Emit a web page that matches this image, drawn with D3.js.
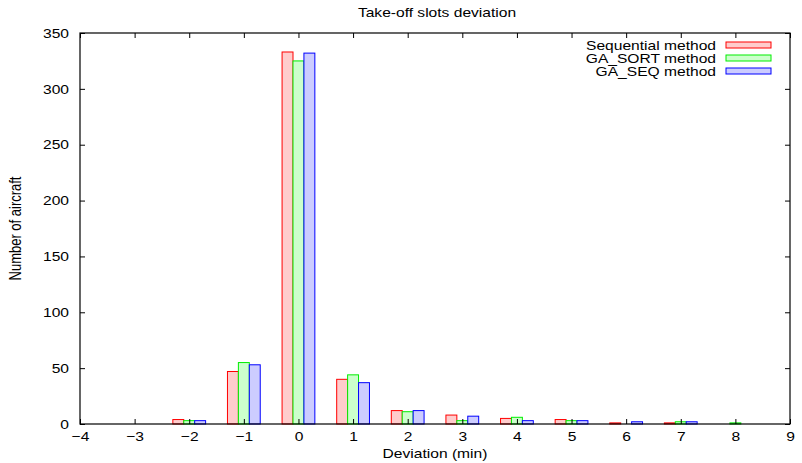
<!DOCTYPE html>
<html>
<head>
<meta charset="utf-8">
<script src="https://cdn.jsdelivr.net/npm/d3@7"></script>
<style>
body { margin: 0; background: #fff; }
text { font-family: "Liberation Sans", Arial, sans-serif; font-size: 13px; fill: #000; }
</style>
</head>
<body>
<div id="chart"></div>
<script>
// deviation in minutes
var deviations = [-2, -1, 0, 1, 2, 3, 4, 5, 6, 7, 8];
var sequential = [4, 47, 333, 40, 12, 8, 5, 4, 1, 1, 0];
var gaSort     = [3, 55, 325, 44, 11, 3, 6, 3, 0, 2, 1];
var gaSeq      = [3, 53, 332, 37, 12, 7, 3, 3, 2, 2, 0];
var seriesNames = ["Sequential method", "GA_SORT method", "GA_SEQ method"];
var xTicks = [-4, -3, -2, -1, 0, 1, 2, 3, 4, 5, 6, 7, 8, 9];
var yTicks = [0, 50, 100, 150, 200, 250, 300, 350];

var W = 802, H = 463;
var margin = {top: 33, right: 12, bottom: 39, left: 80};
var width = W - margin.left - margin.right,
    height = H - margin.top - margin.bottom;

var strokes = ["#ff0000", "#00ee00", "#0000ff"];
var fills = ["#ffcccc", "#ccffcc", "#ccccff"];
var series = [sequential, gaSort, gaSeq];

// the original text looks a bit wide, so stretch it horizontally
var stretch = 1.2;
function widen(sel) {
    sel.each(function () {
        var t = d3.select(this);
        var tx = +t.attr("x") || 0, ty = +t.attr("y") || 0;
        var prev = t.attr("transform") || "";
        t.attr("x", 0).attr("y", 0)
            .attr("transform", prev + " translate(" + tx + "," + ty + ") scale(" + stretch + ",1)");
    });
}

var svg = d3.select("#chart").append("svg")
    .attr("width", W)
    .attr("height", H);

var x = d3.scaleLinear().domain([-4, 9]).range([0, width]);
var y = d3.scaleLinear().domain([0, 350]).range([height, 0]);

var g = svg.append("g")
    .attr("transform", "translate(" + margin.left + "," + margin.top + ")");

// bars
var barW = 0.2;
series.forEach(function (vals, s) {
    g.selectAll(".bar" + s)
        .data(deviations.map(function (d, i) { return {d: d, v: vals[i]}; }))
        .enter()
        .append("rect")
        .attr("x", d => x(d.d + (s - 1) * barW - barW / 2))
        .attr("width", x(barW) - x(0))
        .attr("y", d => y(d.v))
        .attr("height", d => y(0) - y(d.v))
        .style("fill", fills[s])
        .style("stroke", strokes[s])
        .style("stroke-width", 1);
});

// axes, gnuplot style: ticks inward, mirrored
var tickLen = 5;
var axBottom = g.append("g").attr("transform", "translate(0," + height + ")")
    .call(d3.axisBottom(x).tickValues(xTicks).tickSize(-tickLen).tickPadding(8)
        .tickFormat(d => d < 0 ? "\u2212" + Math.abs(d) : d));
var axTop = g.append("g")
    .call(d3.axisTop(x).tickValues(xTicks).tickSize(-tickLen).tickFormat(""));
var axLeft = g.append("g")
    .call(d3.axisLeft(y).tickValues(yTicks).tickSize(-tickLen).tickPadding(11));
var axRight = g.append("g").attr("transform", "translate(" + width + ",0)")
    .call(d3.axisRight(y).tickValues(yTicks).tickSize(-tickLen).tickFormat(""));

[axBottom, axTop, axLeft, axRight].forEach(function (a) {
    a.attr("font-size", null).attr("font-family", null);
    a.select(".domain").remove();
    a.selectAll("line").style("stroke", "#000");
    a.selectAll("text").attr("fill", null);
});
widen(axBottom.selectAll("text"));
widen(axLeft.selectAll("text"));

// frame
g.append("rect")
    .attr("width", width)
    .attr("height", height)
    .style("fill", "none")
    .style("stroke", "#000")
    .style("stroke-width", 1.2);

// legend
var legend = g.append("g");
seriesNames.forEach(function (name, s) {
    var ly = 12 + s * 13;
    legend.append("text")
        .attr("x", 636)
        .attr("y", ly)
        .attr("dy", "0.35em")
        .attr("text-anchor", "end")
        .text(name);
    legend.append("rect")
        .attr("x", 646)
        .attr("y", ly - 3)
        .attr("width", 45)
        .attr("height", 6)
        .style("fill", fills[s])
        .style("stroke", strokes[s]);
});
widen(legend.selectAll("text"));

// titles
var title = svg.append("text")
    .attr("x", 437)
    .attr("y", 17)
    .attr("text-anchor", "middle")
    .text("Take-off slots deviation");

var xLabel = svg.append("text")
    .attr("x", 435)
    .attr("y", 458)
    .attr("text-anchor", "middle")
    .text("Deviation (min)");
widen(title);
widen(xLabel);

svg.append("text")
    .attr("transform", "translate(21," + (margin.top + height / 2) + ") scale(" + stretch + ",1) rotate(-90)")
    .attr("text-anchor", "middle")
    .text("Number of aircraft");
</script>
</body>
</html>
